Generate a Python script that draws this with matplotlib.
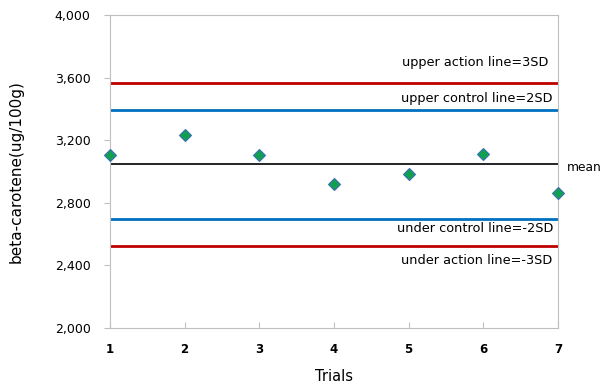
import numpy as np
import matplotlib.pyplot as plt

# datos
trials = [1, 2, 3, 4, 5, 6, 7]
beta_carotene = [3107, 3235, 3105, 2922, 2984, 3112, 2863]

mean_val = 3046
sd_val = 174

# líneas de control: (nombre, múltiplo de SD, color)
lines = [
    ("upper action line=3SD", 3, "#c00000"),
    ("upper control line=2SD", 2, "#0070c0"),
    ("under control line=-2SD", -2, "#0070c0"),
    ("under action line=-3SD", -3, "#c00000"),
]
# desplazamiento de cada etiqueta respecto a su línea (px)
label_offsets = [(-10, 20), (-5, 11), (-5, -10), (-6, -15)]

plt.rcParams['font.family'] = ['DejaVu Sans']

fig = plt.figure(figsize=(6.05, 3.86), dpi=100)
ax = fig.add_axes([110 / 605, 1 - 328 / 386, 448 / 605, 313 / 386])

ax.axhline(mean_val, color='black', linewidth=1.2)
for (name, k, col), (dx, dy) in zip(lines, label_offsets):
    y = mean_val + k * sd_val
    ax.axhline(y, color=col, linewidth=2)
    ax.annotate(name, xy=(7, y), xytext=(dx, dy), textcoords='offset pixels',
                ha='right', va='center', fontsize=9.3)

ax.annotate("mean", xy=(7, mean_val), xytext=(9, -3),
            textcoords='offset pixels', ha='left', va='center', fontsize=8.8,
            annotation_clip=False)

ax.plot(trials, beta_carotene, linestyle='none', marker='D', markersize=6,
        markerfacecolor='#11a050', markeredgecolor='#3b6db3',
        markeredgewidth=0.8, clip_on=False, zorder=5)

ax.set_xlim(1, 7)
ax.set_ylim(2000, 4000)
ax.set_xticks(trials)
ax.set_yticks(np.arange(2000, 4001, 400))
ax.yaxis.set_major_formatter(plt.FuncFormatter(lambda v, p: f"{int(v):,}"))

for lab in ax.get_xticklabels():
    lab.set_fontweight('bold')
ax.tick_params(axis='x', direction='in', length=4, color='#bfbfbf',
               labelsize=8.5, pad=11)
ax.tick_params(axis='y', direction='out', length=4, color='#bfbfbf',
               labelsize=9, pad=10)

for s in ax.spines.values():
    s.set_color('#bfbfbf')

ax.set_xlabel("Trials", fontsize=10.5, labelpad=9)
ax.set_ylabel("beta-carotene(ug/100g)", fontsize=11, labelpad=22)

plt.savefig('out.png', dpi=100)
